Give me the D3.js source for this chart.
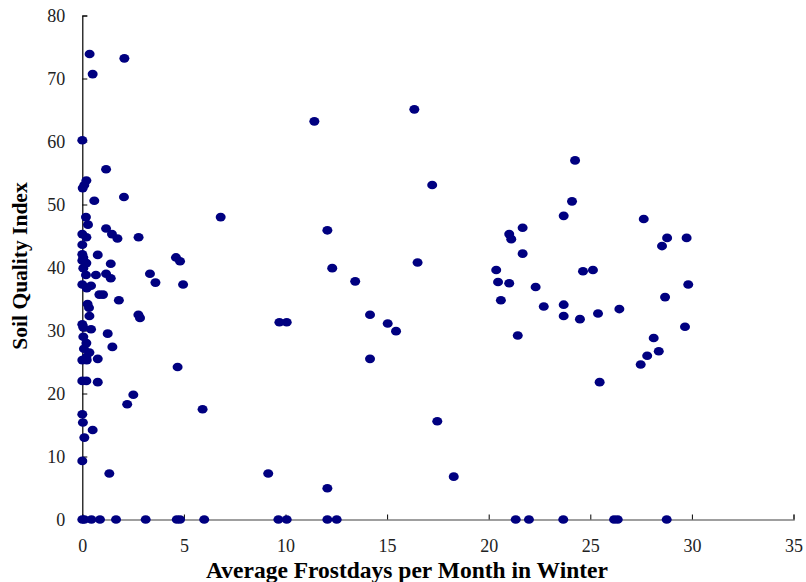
<!DOCTYPE html>
<html>
<head>
<meta charset="utf-8">
<script src="https://cdn.jsdelivr.net/npm/d3@7"></script>
<style>
  html, body { margin: 0; padding: 0; background: #fff; }
  svg { display: block; }
</style>
</head>
<body>
<svg id="chart" width="806" height="582"></svg>
<script>
// Frost days (x) and soil quality index (y)
const frostDays = [
  // y = 0 row
  0, 0.1, 0.45, 0.87, 1.66, 3.12, 4.65, 4.81, 6.0, 9.65, 10.06, 12.06, 12.52,
  21.33, 21.98, 23.67, 26.17, 26.35, 28.76,
  // left cluster
  0.36, 2.07, 0.51, 0, 0.02, 0.1, 0.2, 0.59, 2.05, 1.17, 0.18, 0.28, 1.17,
  0, 0.2, 1.46, 1.73, 2.77, 0, 0, 0.05, 0.76, 0, 0.2, 0.05, 1.4,
  0.18, 0.67, 1.17, 1.4, 3.33, 3.6, 4.61, 4.81, 4.96, 0, 0.43, 0.22,
  0.84, 1.02, 1.8, 0.26, 0.33, 0.35, 2.76, 2.84, 0, 0.05, 0.43, 1.25,
  0.05, 0.2, 1.48, 0.08, 0.35, 0.2, 0, 0.22, 0.76, 4.69, 0, 0.2, 0.76,
  2.51, 2.21, 5.92, 0, 0.03, 0.51, 0.1, 0, 1.33, 6.81,
  // middle
  11.42, 16.34, 17.22, 12.06, 12.3, 16.5, 13.43, 9.7, 10.06, 14.16, 15.03,
  15.44, 14.16, 17.47, 9.15, 12.06, 18.28,
  // right
  21.67, 21.01, 21.11, 21.67, 20.37, 20.46, 21.01, 20.6, 21.43,
  24.25, 24.1, 23.69, 27.63, 28.78, 29.74, 28.53, 24.64, 25.13, 22.31,
  29.82, 22.71, 23.69, 28.68, 25.38, 26.43, 23.69, 24.49, 29.66,
  28.12, 27.8, 28.37, 27.48, 25.46
];
const soilIndex = [
  // y = 0 row
  0, 0, 0, 0, 0, 0, 0, 0, 0, 0, 0, 0, 0,
  0, 0, 0, 0, 0, 0,
  // left cluster
  73.9, 73.2, 70.7, 60.2, 52.6, 53.1, 53.8, 50.6, 51.2, 55.6, 48.0, 46.8, 46.2,
  45.3, 44.8, 45.3, 44.6, 44.8, 43.6, 42.1, 41.6, 42.0, 41.1, 40.7, 39.9, 40.6,
  38.8, 38.8, 39.0, 38.3, 39.0, 37.6, 41.6, 41.0, 37.3, 37.3, 37.1, 36.7,
  35.7, 35.7, 34.8, 34.2, 33.6, 32.3, 32.5, 32.0, 31.0, 30.5, 30.2, 29.5,
  29.0, 28.0, 27.4, 27.1, 26.5, 25.8, 25.3, 25.3, 25.5, 24.2, 22.0, 22.0, 21.8,
  19.8, 18.3, 17.5, 16.7, 15.4, 14.2, 13.0, 9.3, 7.3, 48.0,
  // middle
  63.2, 65.1, 53.1, 45.9, 39.9, 40.8, 37.8, 31.3, 31.3, 32.5, 31.1,
  29.9, 25.5, 15.6, 7.3, 4.95, 6.8,
  // right
  46.3, 45.3, 44.5, 42.2, 39.6, 37.7, 37.5, 34.8, 29.2,
  57.0, 50.5, 48.2, 47.7, 44.7, 44.7, 43.4, 39.4, 39.6, 36.9,
  37.3, 33.8, 34.1, 35.3, 32.7, 33.4, 32.3, 31.8, 30.6,
  28.8, 26.0, 26.7, 24.6, 21.8
];
const xTicks = [0, 5, 10, 15, 20, 25, 30, 35];
const yTicks = [0, 10, 20, 30, 40, 50, 60, 70, 80];
const xTitle = "Average Frostdays per Month in Winter";
const yTitle = "Soil Quality Index";

const points = frostDays.map((x, i) => ({ x: x, y: soilIndex[i] }));

const svg = d3.select("#chart");
const x = d3.scaleLinear().domain([0, 35]).range([82.3, 793.5]);
const y = d3.scaleLinear().domain([0, 80]).range([519.5, 15.5]);

const font = "'Liberation Serif', 'Times New Roman', serif";

// X axis
const gx = svg.append("g")
  .attr("transform", `translate(0,${y(0)})`)
  .call(d3.axisBottom(x).tickValues(xTicks).tickSize(-5).tickPadding(20).tickFormat(d3.format("d")));
gx.select(".domain").attr("stroke", "#808080").attr("stroke-width", 1.5);
gx.selectAll(".tick line").attr("stroke", "#000");
gx.selectAll(".tick text").attr("font-family", font).attr("font-size", 18).attr("fill", "#222");

// Y axis
const gy = svg.append("g")
  .attr("transform", `translate(${x(0)},0)`)
  .call(d3.axisLeft(y).tickValues(yTicks).tickSize(-5).tickPadding(17).tickFormat(d3.format("d")));
gy.select(".domain").attr("stroke", "#000").attr("stroke-width", 1.2);
gy.selectAll(".tick line").attr("stroke", "#000");
gy.selectAll(".tick text").attr("font-family", font).attr("font-size", 18).attr("fill", "#222");

// Points
svg.append("g").selectAll("ellipse")
  .data(points)
  .join("ellipse")
  .attr("cx", d => x(d.x))
  .attr("cy", d => y(d.y))
  .attr("rx", 5)
  .attr("ry", 4.3)
  .attr("fill", "#000080");

// Titles
svg.append("text")
  .attr("x", 407)
  .attr("y", 578)
  .attr("text-anchor", "middle")
  .attr("font-family", font)
  .attr("font-weight", "bold")
  .attr("font-size", 23.5)
  .attr("fill", "#000")
  .text(xTitle);

svg.append("text")
  .attr("transform", "translate(27,266) rotate(-90)")
  .attr("text-anchor", "middle")
  .attr("font-family", font)
  .attr("font-weight", "bold")
  .attr("font-size", 21.5)
  .attr("fill", "#000")
  .text(yTitle);
</script>
</body>
</html>
